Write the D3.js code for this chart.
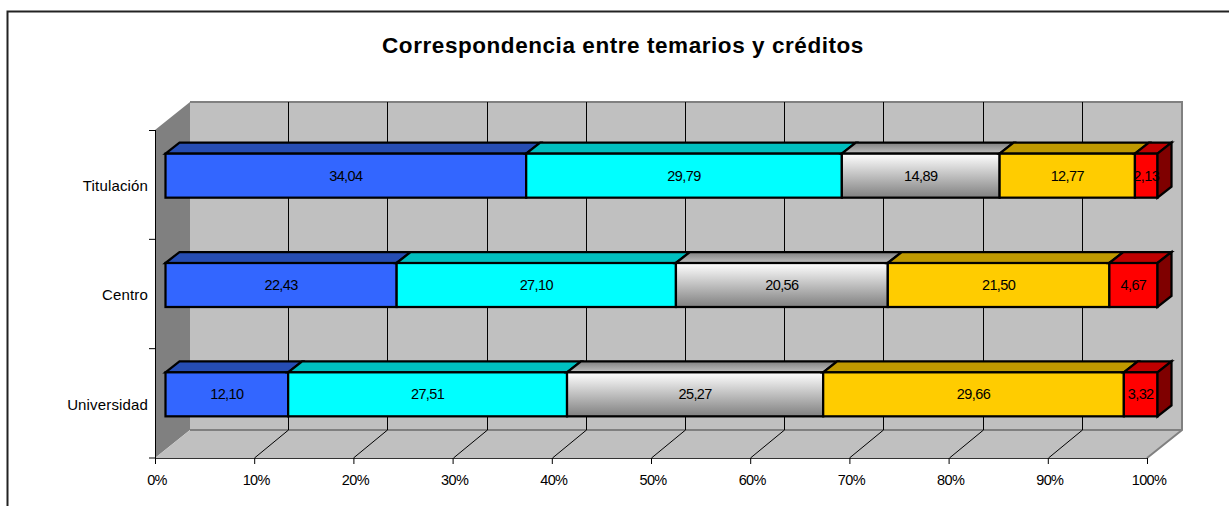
<!DOCTYPE html>
<html>
<head>
<meta charset="utf-8">
<script src="https://cdn.jsdelivr.net/npm/d3@7"></script>
<style>
  html, body { margin: 0; padding: 0; background: #fff; overflow: hidden; }
  svg { display: block; }
  text { font-family: "Liberation Sans", Arial, sans-serif; fill: #000; }
</style>
</head>
<body>
<svg id="chart" width="1229" height="506"></svg>
<script>
// datos
const categories = ['Titulación', 'Centro', 'Universidad'];
const seriesNames = ['s1', 's2', 's3', 's4', 's5'];
const s1 = [34.04, 22.43, 12.10];
const s2 = [29.79, 27.10, 27.51];
const s3 = [14.89, 20.56, 25.27];
const s4 = [12.77, 21.50, 29.66];
const s5 = [2.13, 4.67, 3.32];
const xTicks = d3.range(0, 1.01, 0.1);
const title = 'Correspondencia entre temarios y créditos';

const faceColors = ['#3366ff', '#00ffff', 'url(#grey)', '#ffcc00', '#ff0000'];
const topColors = ['#264db3', '#00bfbf', 'url(#greyTop)', '#bf9900', '#bf0000'];
const sideColor = '#7f0000';

const svg = d3.select('#chart');

// degradados de la serie gris
const defs = svg.append('defs');
const grey = defs.append('linearGradient').attr('id', 'grey').attr('x2', 0).attr('y2', 1);
grey.append('stop').attr('offset', 0).attr('stop-color', '#ffffff');
grey.append('stop').attr('offset', 1).attr('stop-color', '#808080');
const greyTop = defs.append('linearGradient').attr('id', 'greyTop').attr('x2', 0).attr('y2', 1);
greyTop.append('stop').attr('offset', 0).attr('stop-color', '#808080');
greyTop.append('stop').attr('offset', 1).attr('stop-color', '#bfbfbf');

// marco exterior: solo arriba e izquierda, el resto queda fuera del recorte
svg.append('path').attr('d', 'M7.5,506V11.5H1229')
  .attr('fill', 'none').attr('stroke', '#222').attr('stroke-width', 2);

svg.append('text').attr('x', 623).attr('y', 52.5).attr('text-anchor', 'middle')
  .attr('font-size', 22.5).attr('font-weight', 'bold').attr('letter-spacing', 0.56).text(title);

// escalas
const x = d3.scaleLinear().domain([0, 1]).range([155, 1147]);
const yAxis = d3.scaleBand().domain(categories).range([130, 458]);
const depth = { dx: 35, dy: -28 };
const barDepth = { dx: 14, dy: -11 };
const barOffset = { dx: 10.5, dy: -9 };

// paredes
const floorY = yAxis.range()[1];
const topY = yAxis.range()[0];
const poly = pts => pts.map(p => p.join(',')).join(' ');
const walls = svg.append('g');
walls.append('polygon')
  .attr('points', poly([[x(0), topY], [x(0) + depth.dx, topY + depth.dy], [x(0) + depth.dx, floorY + depth.dy], [x(0), floorY]]))
  .attr('fill', '#808080');
walls.append('polygon')
  .attr('points', poly([[x(0), floorY], [x(0) + depth.dx, floorY + depth.dy], [x(1) + depth.dx, floorY + depth.dy], [x(1), floorY]]))
  .attr('fill', '#c0c0c0');
walls.append('rect')
  .attr('x', x(0) + depth.dx).attr('y', topY + depth.dy)
  .attr('width', x(1) - x(0)).attr('height', floorY - topY)
  .attr('fill', '#c0c0c0');
walls.append('polyline')
  .attr('points', poly([[x(0) + depth.dx, topY + depth.dy], [x(1) + depth.dx, topY + depth.dy], [x(1) + depth.dx, floorY + depth.dy], [x(1), floorY]]))
  .attr('fill', 'none').attr('stroke', '#808080').attr('stroke-width', 2);
walls.append('line')
  .attr('x1', x(0) + depth.dx).attr('x2', x(1) + depth.dx)
  .attr('y1', floorY + depth.dy).attr('y2', floorY + depth.dy)
  .attr('stroke', '#808080').attr('stroke-width', 2);

// rejilla
const grid = svg.append('g').attr('stroke', '#000').attr('stroke-width', 1).attr('fill', 'none');
grid.selectAll('path').data(xTicks.slice(1, -1)).enter().append('path')
  .attr('d', d => `M${Math.round(x(d))}.5,${floorY}L${Math.round(x(d) + depth.dx - 1)}.5,${floorY + depth.dy}V${topY + depth.dy}`);

// ejes
const axisBottom = d3.axisBottom(x).tickValues(xTicks).tickSize(6).tickPadding(11)
  .tickFormat(d => Math.round(d * 100) + '%');
const gx = svg.append('g').attr('transform', `translate(0,${floorY})`).call(axisBottom);
gx.selectAll('text').attr('font-size', 14.5).attr('letter-spacing', -0.65).attr('dx', 1.5)
  .attr('font-family', '"Liberation Sans", Arial, sans-serif');
gx.select('.domain').attr('stroke', '#333');

const gy = svg.append('g').attr('transform', `translate(${x(0)},0)`)
  .call(d3.axisLeft(yAxis).tickSize(0).tickPadding(7));
gy.selectAll('text').attr('font-size', 15).attr('letter-spacing', 0.15).attr('dy', '0.42em')
  .attr('font-family', '"Liberation Sans", Arial, sans-serif');
gy.selectAll('.tick').append('line')
  .attr('x1', -6).attr('x2', 0)
  .attr('y1', yAxis.bandwidth() / 2).attr('y2', yAxis.bandwidth() / 2)
  .attr('stroke', '#000');
gy.append('line').attr('x1', -6).attr('x2', 0).attr('y1', topY + 0.5).attr('y2', topY + 0.5).attr('stroke', '#000');
gy.select('.domain').remove();
gy.append('line').attr('x1', 0.5).attr('x2', 0.5).attr('y1', topY).attr('y2', floorY).attr('stroke', '#000');

// apilado al 100 %
const rows = categories.map((c, i) => ({ cat: c, s1: s1[i], s2: s2[i], s3: s3[i], s4: s4[i], s5: s5[i] }));
const stacked = d3.stack().keys(seriesNames).offset(d3.stackOffsetExpand)(rows);

const barH = 44;
const barFrontY = c => yAxis(c) + yAxis.bandwidth() / 2 - barH / 2 + barOffset.dy;
const bx = v => x(v) + barOffset.dx;

const bars = svg.append('g').attr('stroke', '#000').attr('stroke-width', 2.25).attr('stroke-linejoin', 'miter');
stacked.forEach((layer, li) => {
  const g = bars.append('g');
  layer.forEach(d => {
    const c = d.data.cat;
    const y0 = barFrontY(c);
    const x0 = bx(d[0]);
    const x1 = bx(d[1]);
    g.append('polygon')
      .attr('points', poly([[x0, y0], [x0 + barDepth.dx, y0 + barDepth.dy], [x1 + barDepth.dx, y0 + barDepth.dy], [x1, y0]]))
      .attr('fill', topColors[li]);
    g.append('rect').attr('x', x0).attr('y', y0).attr('width', x1 - x0).attr('height', barH)
      .attr('fill', faceColors[li]);
    if (li === stacked.length - 1) {
      g.append('polygon')
        .attr('points', poly([[x1, y0], [x1 + barDepth.dx, y0 + barDepth.dy], [x1 + barDepth.dx, y0 + barDepth.dy + barH], [x1, y0 + barH]]))
        .attr('fill', sideColor);
    }
  });
});

// etiquetas de datos
const fmt = v => v.toFixed(2).replace('.', ',');
const labels = svg.append('g');
stacked.forEach(layer => {
  layer.forEach(d => {
    labels.append('text')
      .attr('x', (bx(d[0]) + bx(d[1])) / 2)
      .attr('y', barFrontY(d.data.cat) + barH / 2 + 5)
      .attr('text-anchor', 'middle').attr('font-size', 14.5).attr('letter-spacing', -0.6)
      .text(fmt(d.data[layer.key]));
  });
});
</script>
</body>
</html>
